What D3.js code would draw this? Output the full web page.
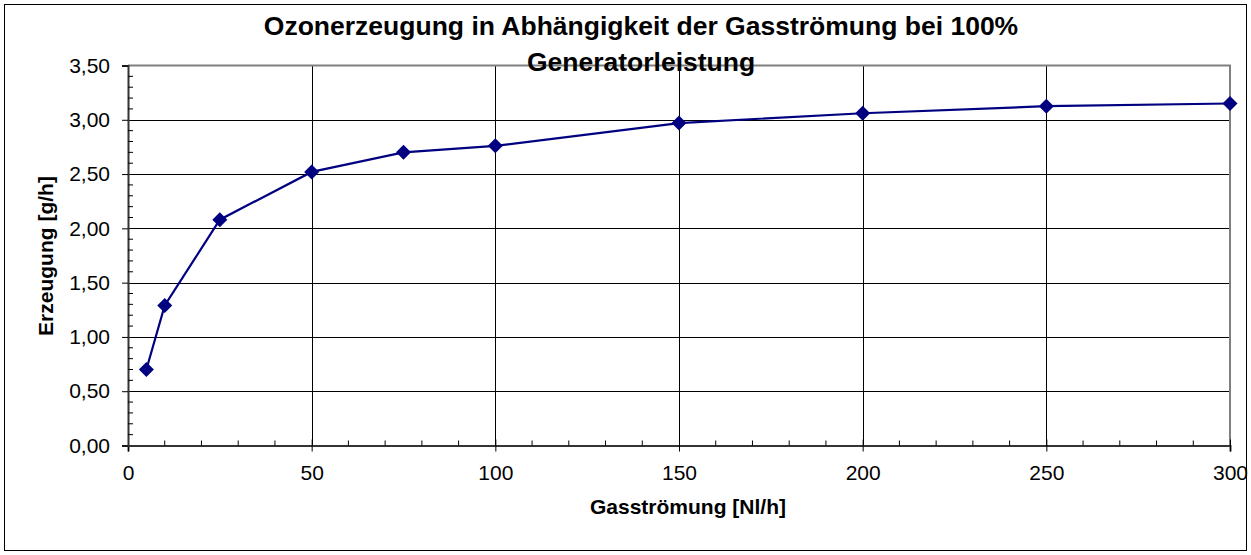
<!DOCTYPE html>
<html><head><meta charset="utf-8">
<script src="https://cdn.jsdelivr.net/npm/d3@7"></script>
<style>body{margin:0;background:#fff}svg{display:block;font-family:"Liberation Sans",Arial,sans-serif}</style>
</head><body><svg id="c" width="1251" height="555"></svg>
<script>
const flows = [5, 10, 25, 50, 75, 100, 150, 200, 250, 300];
const production = [0.70, 1.29, 2.08, 2.52, 2.70, 2.76, 2.97, 3.06, 3.125, 3.15];
const xTicks = [0, 50, 100, 150, 200, 250, 300];
const yTicks = [0, 0.5, 1, 1.5, 2, 2.5, 3, 3.5];
const titleLines = ["Ozonerzeugung in Abhängigkeit der Gasströmung bei 100%", "Generatorleistung"];
const xTitle = "Gasströmung [Nl/h]";
const yTitle = "Erzeugung [g/h]";

const svg = d3.select("#c");
const L = 128, R = 1230, T = 65.5, B = 445.5;
const x = d3.scaleLinear().domain([0, 300]).range([L, R]);
const y = d3.scaleLinear().domain([0, 3.5]).range([B, T]);
const fmt = v => d3.format(".2f")(v).replace(".", ",");
const FF = "Liberation Sans, Arial, sans-serif";

svg.append("rect").attr("x", 4.5).attr("y", 4.5).attr("width", 1242).attr("height", 546)
  .attr("fill", "#fff").attr("stroke", "#000").attr("stroke-width", 1);

// gridlines
const g = svg.append("g");
g.selectAll(".hg").data(yTicks.slice(1, -1)).join("line")
  .attr("x1", L).attr("x2", R).attr("y1", d => Math.round(y(d)) + 0.5).attr("y2", d => Math.round(y(d)) + 0.5)
  .attr("stroke", "#000").attr("stroke-width", 1);
g.selectAll(".vg").data(xTicks.slice(1, -1)).join("line")
  .attr("y1", T).attr("y2", B).attr("x1", d => Math.round(x(d)) + 0.5).attr("x2", d => Math.round(x(d)) + 0.5)
  .attr("stroke", "#000").attr("stroke-width", 1);
// plot border top/right
svg.append("path").attr("d", `M${L},${T}H${R}V${B}`).attr("fill", "none").attr("stroke", "#808080").attr("stroke-width", 2);

// axes
const xAxis = d3.axisBottom(x).tickValues(xTicks).tickSize(6).tickPadding(14).tickFormat(d3.format("d"));
const ax = svg.append("g").attr("transform", `translate(0,${B})`).call(xAxis);
ax.attr("font-size", null).attr("font-family", null);
ax.select(".domain").attr("stroke", "#333").attr("stroke-width", 2);
ax.selectAll(".tick line").attr("y1", -6).attr("y2", 6);
ax.selectAll("text").style("font-size", "21px").style("font-family", FF).attr("fill", "#000");
const xMinor = d3.range(0, 301, 10).filter(v => v % 50 !== 0);
ax.selectAll(".mx").data(xMinor).join("line").attr("x1", d => x(d)).attr("x2", d => x(d))
  .attr("y1", 0).attr("y2", -5).attr("stroke", "#000");

const yAxis = d3.axisLeft(y).tickValues(yTicks).tickSize(6).tickPadding(12).tickFormat(fmt);
const ay = svg.append("g").attr("transform", `translate(${L},0)`).call(yAxis);
ay.attr("font-size", null).attr("font-family", null);
ay.select(".domain").attr("stroke", "#333").attr("stroke-width", 2);
ay.selectAll("text").style("font-size", "21px").style("font-family", FF).attr("fill", "#000");
const yMinor = d3.range(0, 35).map(i => i / 10).filter((v, i) => i % 5 !== 0);
ay.selectAll(".my").data(yMinor).join("line").attr("y1", d => y(d)).attr("y2", d => y(d))
  .attr("x1", 0).attr("x2", 5).attr("stroke", "#000");

// line
const pts = flows.map((f, i) => [f, production[i]]);
svg.append("path").datum(pts).attr("fill", "none").attr("stroke", "#000080").attr("stroke-width", 2.2)
  .attr("d", d3.line().x(d => x(d[0])).y(d => y(d[1])));
svg.selectAll(".pt").data(pts).join("path")
  .attr("transform", d => `translate(${x(d[0])},${y(d[1])})`)
  .attr("d", "M0,-7.5L7.5,0L0,7.5L-7.5,0Z").attr("fill", "#000080");

// titles
svg.selectAll(".tt").data(titleLines).join("text")
  .attr("x", 641).attr("y", (d, i) => 35 + i * 36).attr("text-anchor", "middle")
  .style("font-size", "26.5px").style("font-family", FF).attr("font-weight", "bold").text(d => d);
svg.append("text").attr("x", 688).attr("y", 514).attr("text-anchor", "middle")
  .style("font-size", "21px").style("font-family", FF).attr("font-weight", "bold").text(xTitle);
svg.append("text").attr("transform", "translate(53,256) rotate(-90)").attr("text-anchor", "middle")
  .style("font-size", "21px").style("font-family", FF).attr("font-weight", "bold").text(yTitle);
</script></body></html>
